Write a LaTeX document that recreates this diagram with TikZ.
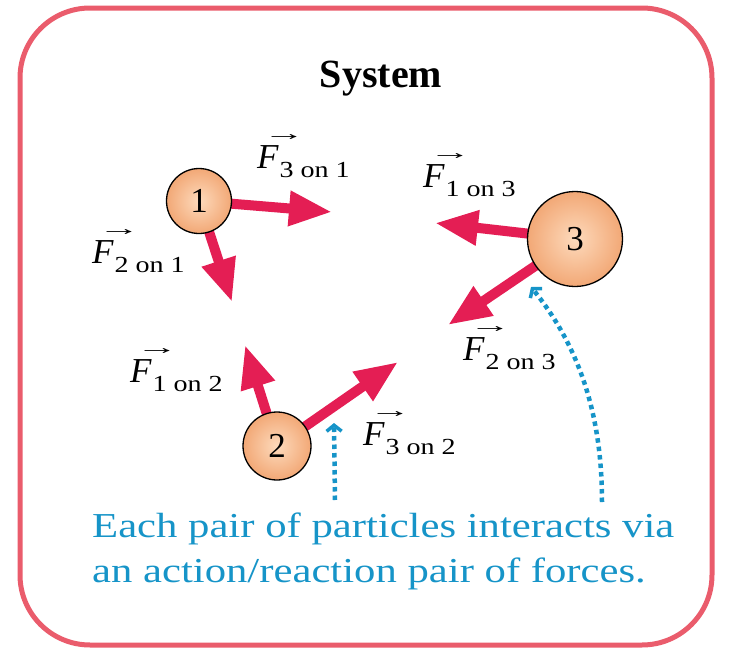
\documentclass[tikz,border=0pt]{standalone}
\usepackage{fontspec}
\setmainfont{Liberation Serif}
\newfontfamily\widefont[FakeStretch=1.22]{Liberation Serif}
\newfontfamily\arrowfont[FakeStretch=2.0]{Liberation Serif}
\usetikzlibrary{arrows.meta}
\pgfdeclarelayer{background}
\pgfsetlayers{background,main}

\definecolor{framered}{RGB}{234,92,108}
\definecolor{forcered}{RGB}{228,30,84}
\definecolor{noteblue}{RGB}{22,148,200}
\definecolor{ballin}{RGB}{253,218,188}
\definecolor{ballout}{RGB}{242,168,118}

\newcommand{\vecF}{\leavevmode\rlap{\kern6pt\raisebox{28pt}{\arrowfont\fontsize{21}{21}\selectfont →}}{\fontsize{35}{35}\selectfont\itshape F\kern1pt}}
\newcommand{\forcelabel}[2]{\vecF{\widefont\fontsize{23}{23}\selectfont\raisebox{-9pt}{#1 on #2}}}

\begin{document}
\begin{tikzpicture}[x=1pt,y=-1pt,
  ball/.style={circle, draw=black, line width=1.3pt, inner sep=0pt,
    inner color=ballin, outer color=ballout, font=\fontsize{35}{35}\selectfont},
  force/.style={forcered, line width=10pt, -{Triangle[length=43pt,width=33pt]}},
  note/.style={noteblue, line width=4.5pt, dash pattern=on 4.5pt off 4pt,
    -{Straight Barb[length=6pt,width=15pt,line width=3.5pt]}},
  flabel/.style={anchor=base west, inner sep=0pt},
  caption/.style={anchor=base west, inner sep=0pt, text=noteblue,
    font=\widefont\fontsize{35}{40}\selectfont}]
\useasboundingbox (0,0) rectangle (732,656);
\draw[framered, line width=5pt, rounded corners=70pt] (20,8) rectangle (712,645);

\node[font=\fontsize{40}{40}\selectfont\bfseries, anchor=base] (title) at (381,87) {System};

\node[ball, minimum size=65pt] (p1) at (199,201) {1};
\node[ball, minimum size=68pt] (p2) at (277,446) {2};
\node[ball, minimum size=95pt] (p3) at (575,239) {3};

\coordinate (t31) at (332,212);
\coordinate (t21) at (232,302);
\coordinate (t13) at (435,223);
\coordinate (t23) at (448,325);
\coordinate (t12) at (245,345);
\coordinate (t32) at (398,362);

\begin{pgfonlayer}{background}
\draw[force] (p1.center) -- (t31);
\draw[force] (p1.center) -- (t21);
\draw[force] (p3.center) -- (t13);
\draw[force] (p3.center) -- (t23);
\draw[force] (p2.center) -- (t12);
\draw[force] (p2.center) -- (t32);
\end{pgfonlayer}

\node[flabel] (l31) at (257,168) {\forcelabel{3}{1}};
\node[flabel] (l21) at (92,263) {\forcelabel{2}{1}};
\node[flabel] (l13) at (423,187) {\forcelabel{1}{3}};
\node[flabel] (l23) at (463,360) {\forcelabel{2}{3}};
\node[flabel] (l12) at (130,382) {\forcelabel{1}{2}};
\node[flabel] (l32) at (363,445) {\forcelabel{3}{2}};

\node[caption] (cap1) at (92,537) {Each pair of particles interacts via};
\node[caption] (cap2) at (92,582) {an action/reaction pair of forces.};

\coordinate (n1) at (335,500);
\coordinate (a1) at (334,423);
\coordinate (n2) at (602,502);
\coordinate (a2) at (531,287);
\draw[note] (n1) -- (a1);
\draw[note] (n2) .. controls (602,420) and (582,350) .. (a2);
\end{tikzpicture}
\end{document}
